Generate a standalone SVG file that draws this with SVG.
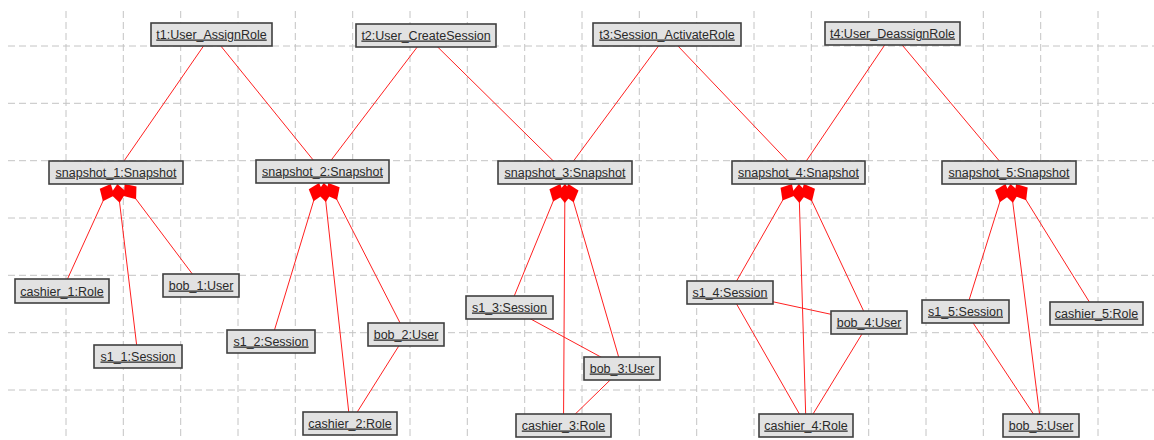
<svg xmlns="http://www.w3.org/2000/svg" width="1154" height="440" viewBox="0 0 1154 440">
  <style>
    .grid line { stroke: #c4c4c4; stroke-width: 1; stroke-dasharray: 7 4; }
    .links line { stroke: #ff2020; stroke-width: 1; fill: none; }
    .comp { marker-start: url(#diamond); }
    .obj rect { fill: #e2e2e2; stroke: #404040; stroke-width: 1.6; }
    .obj text { font-family: "Liberation Sans", Arial, sans-serif; font-size: 12.5px; fill: #2a2a2a; text-anchor: middle; text-decoration: underline; }
  </style>
  <defs>
    <!-- filled composition diamond, tip at the whole object's edge -->
    <marker id="diamond" markerUnits="userSpaceOnUse" markerWidth="22" markerHeight="18" refX="0" refY="0" orient="auto" viewBox="-1 -9 22 18" overflow="visible">
      <path d="M0,0 L9,-8 L19,0 L9,8 Z" fill="#ff0000"/>
    </marker>
  </defs>

  <rect x="0" y="0" width="1154" height="440" fill="#ffffff"/>

  <!-- background grid -->
  <g class="grid">
    <line x1="8" y1="46" x2="1154" y2="46"/>
    <line x1="8" y1="103.3" x2="1154" y2="103.3"/>
    <line x1="8" y1="160.7" x2="1154" y2="160.7"/>
    <line x1="8" y1="218" x2="1154" y2="218"/>
    <line x1="8" y1="275.3" x2="1154" y2="275.3"/>
    <line x1="8" y1="332.7" x2="1154" y2="332.7"/>
    <line x1="8" y1="390" x2="1154" y2="390"/>
    <line x1="66" y1="11" x2="66" y2="440"/>
    <line x1="123.3" y1="11" x2="123.3" y2="440"/>
    <line x1="180.7" y1="11" x2="180.7" y2="440"/>
    <line x1="238" y1="11" x2="238" y2="440"/>
    <line x1="295.3" y1="11" x2="295.3" y2="440"/>
    <line x1="352.7" y1="11" x2="352.7" y2="440"/>
    <line x1="410" y1="11" x2="410" y2="440"/>
    <line x1="467.3" y1="11" x2="467.3" y2="440"/>
    <line x1="524.7" y1="11" x2="524.7" y2="440"/>
    <line x1="582" y1="11" x2="582" y2="440"/>
    <line x1="639.3" y1="11" x2="639.3" y2="440"/>
    <line x1="696.7" y1="11" x2="696.7" y2="440"/>
    <line x1="754" y1="11" x2="754" y2="440"/>
    <line x1="811.3" y1="11" x2="811.3" y2="440"/>
    <line x1="868.7" y1="11" x2="868.7" y2="440"/>
    <line x1="926" y1="11" x2="926" y2="440"/>
    <line x1="983.3" y1="11" x2="983.3" y2="440"/>
    <line x1="1040.7" y1="11" x2="1040.7" y2="440"/>
    <line x1="1098" y1="11" x2="1098" y2="440"/>
  </g>

  <!-- links -->
  <g id="connectors" class="links">
    <!-- transitions to snapshots -->
    <line x1="211.5" y1="34.5" x2="116" y2="172.5"/>
    <line x1="211.5" y1="34.5" x2="322.5" y2="171.5"/>
    <line x1="426" y1="35.5" x2="322.5" y2="171.5"/>
    <line x1="426" y1="35.5" x2="565" y2="172.5"/>
    <line x1="667" y1="34.5" x2="565" y2="172.5"/>
    <line x1="667" y1="34.5" x2="798.5" y2="172.5"/>
    <line x1="892.5" y1="33.5" x2="798.5" y2="172.5"/>
    <line x1="892.5" y1="33.5" x2="1009" y2="172.5"/>

    <!-- snapshot_1 compositions -->
    <line class="comp" x1="110.76" y1="184" x2="62" y2="291"/>
    <line class="comp" x1="117.38" y1="184" x2="138" y2="356.5"/>
    <line class="comp" x1="124.65" y1="184" x2="201" y2="285.5"/>

    <!-- snapshot_2 compositions -->
    <line class="comp" x1="319.02" y1="183" x2="271" y2="341.5"/>
    <line class="comp" x1="323.75" y1="183" x2="350" y2="423.5"/>
    <line class="comp" x1="328.39" y1="183" x2="406" y2="334.5"/>
    <line x1="406" y1="334.5" x2="350" y2="423.5"/>

    <!-- snapshot_3 compositions -->
    <line class="comp" x1="560.27" y1="184" x2="509.5" y2="307.5"/>
    <line class="comp" x1="564.93" y1="184" x2="563.5" y2="425.5"/>
    <line class="comp" x1="568.34" y1="184" x2="622" y2="368.5"/>
    <line x1="509.5" y1="307.5" x2="622" y2="368.5"/>
    <line x1="622" y1="368.5" x2="563.5" y2="425.5"/>

    <!-- snapshot_4 compositions -->
    <line class="comp" x1="791.94" y1="184" x2="730" y2="292.5"/>
    <line class="comp" x1="798.84" y1="184" x2="806" y2="425.5"/>
    <line class="comp" x1="803.9" y1="184" x2="869" y2="322.5"/>
    <line x1="730" y1="292.5" x2="869" y2="322.5"/>
    <line x1="730" y1="292.5" x2="806" y2="425.5"/>
    <line x1="869" y1="322.5" x2="806" y2="425.5"/>

    <!-- snapshot_5 compositions -->
    <line class="comp" x1="1005.4" y1="184" x2="965.5" y2="311.5"/>
    <line class="comp" x1="1010.45" y1="184" x2="1041" y2="425.5"/>
    <line class="comp" x1="1016.14" y1="184" x2="1096.5" y2="313.5"/>
    <line x1="965.5" y1="311.5" x2="1041" y2="425.5"/>
  </g>

  <!-- transition objects -->
  <g id="t1" class="obj"><rect x="151" y="23" width="121" height="23"/><text x="211.5" y="38.5">t1:User_AssignRole</text></g>
  <g id="t2" class="obj"><rect x="356" y="24" width="140" height="23"/><text x="426" y="39.5">t2:User_CreateSession</text></g>
  <g id="t3" class="obj"><rect x="593" y="23" width="148" height="23"/><text x="667" y="38.5">t3:Session_ActivateRole</text></g>
  <g id="t4" class="obj"><rect x="825" y="22" width="135" height="23"/><text x="892.5" y="37.5">t4:User_DeassignRole</text></g>

  <!-- snapshots -->
  <g id="snapshot_1" class="obj"><rect x="49" y="161" width="134" height="23"/><text x="116" y="176.5">snapshot_1:Snapshot</text></g>
  <g id="snapshot_2" class="obj"><rect x="256" y="160" width="133" height="23"/><text x="322.5" y="175.5">snapshot_2:Snapshot</text></g>
  <g id="snapshot_3" class="obj"><rect x="498" y="161" width="134" height="23"/><text x="565" y="176.5">snapshot_3:Snapshot</text></g>
  <g id="snapshot_4" class="obj"><rect x="732" y="161" width="133" height="23"/><text x="798.5" y="176.5">snapshot_4:Snapshot</text></g>
  <g id="snapshot_5" class="obj"><rect x="942" y="161" width="134" height="23"/><text x="1009" y="176.5">snapshot_5:Snapshot</text></g>

  <!-- snapshot_1 parts -->
  <g id="cashier_1" class="obj"><rect x="15" y="279" width="94" height="24"/><text x="62" y="295.5">cashier_1:Role</text></g>
  <g id="bob_1" class="obj"><rect x="163" y="274" width="76" height="23"/><text x="201" y="289.5">bob_1:User</text></g>
  <g id="s1_1" class="obj"><rect x="94" y="345" width="88" height="23"/><text x="138" y="360.5">s1_1:Session</text></g>

  <!-- snapshot_2 parts -->
  <g id="s1_2" class="obj"><rect x="227" y="330" width="88" height="23"/><text x="271" y="345.5">s1_2:Session</text></g>
  <g id="bob_2" class="obj"><rect x="368" y="323" width="76" height="23"/><text x="406" y="338.5">bob_2:User</text></g>
  <g id="cashier_2" class="obj"><rect x="303" y="412" width="94" height="23"/><text x="350" y="427.5">cashier_2:Role</text></g>

  <!-- snapshot_3 parts -->
  <g id="s1_3" class="obj"><rect x="466" y="296" width="87" height="23"/><text x="509.5" y="311.5">s1_3:Session</text></g>
  <g id="bob_3" class="obj"><rect x="584" y="357" width="76" height="23"/><text x="622" y="372.5">bob_3:User</text></g>
  <g id="cashier_3" class="obj"><rect x="516" y="414" width="95" height="23"/><text x="563.5" y="429.5">cashier_3:Role</text></g>

  <!-- snapshot_4 parts -->
  <g id="s1_4" class="obj"><rect x="687" y="281" width="86" height="23"/><text x="730" y="296.5">s1_4:Session</text></g>
  <g id="bob_4" class="obj"><rect x="831" y="311" width="76" height="23"/><text x="869" y="326.5">bob_4:User</text></g>
  <g id="cashier_4" class="obj"><rect x="759" y="414" width="94" height="23"/><text x="806" y="429.5">cashier_4:Role</text></g>

  <!-- snapshot_5 parts -->
  <g id="s1_5" class="obj"><rect x="922" y="300" width="87" height="23"/><text x="965.5" y="315.5">s1_5:Session</text></g>
  <g id="cashier_5" class="obj"><rect x="1050" y="302" width="93" height="23"/><text x="1096.5" y="317.5">cashier_5:Role</text></g>
  <g id="bob_5" class="obj"><rect x="1003" y="414" width="76" height="23"/><text x="1041" y="429.5">bob_5:User</text></g>
</svg>
